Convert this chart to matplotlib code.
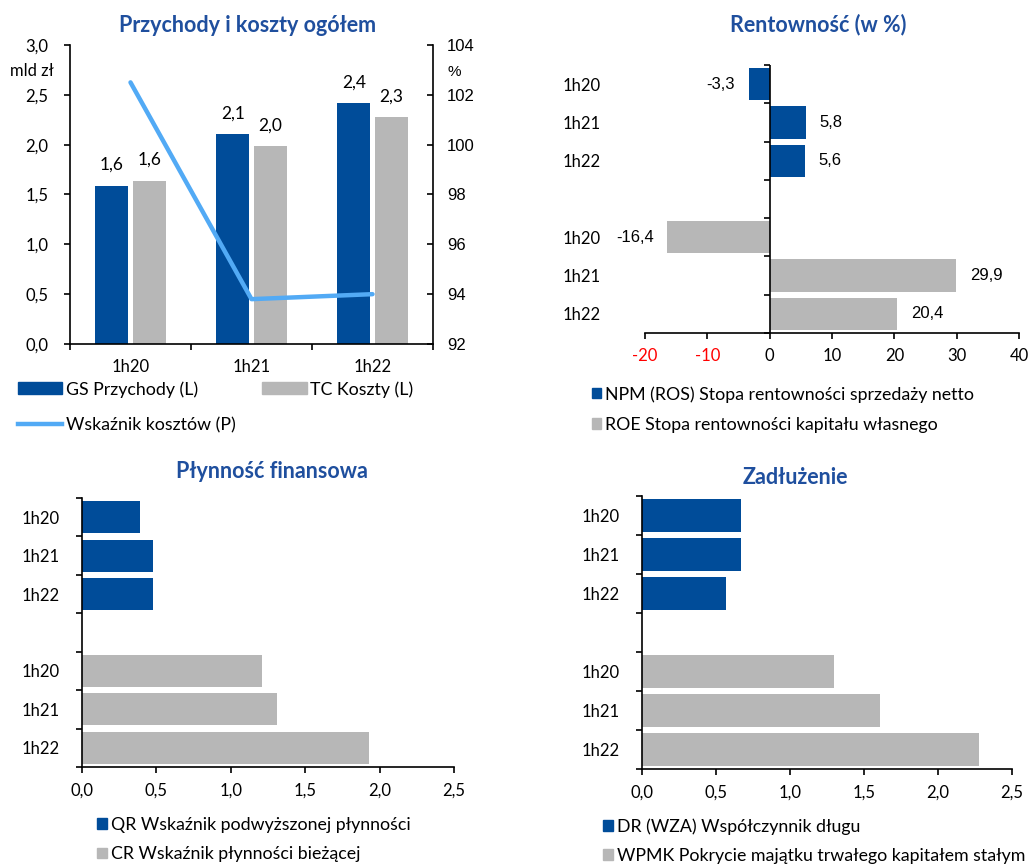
import matplotlib.pyplot as plt
from matplotlib.patches import Patch
from matplotlib.lines import Line2D
from matplotlib.ticker import FuncFormatter, FixedLocator

plt.rcParams['font.family'] = ['Lato', 'DejaVu Sans']
plt.rcParams['font.size'] = 12

BLUE = '#004c99'
GRAY = '#b7b7b7'
LIGHT = '#52aaf5'
TITLE = '#1f4f9e'

# data
periods = ['1h20', '1h21', '1h22']
gs_revenue = [1.59, 2.11, 2.42]
tc_costs = [1.64, 1.99, 2.28]
cost_ratio = [102.5, 93.8, 94.0]
npm = [-3.3, 5.8, 5.6]
roe = [-16.4, 29.9, 20.4]
qr = [0.39, 0.48, 0.48]
cr = [1.21, 1.31, 1.93]
dr = [0.67, 0.67, 0.57]
wpmk = [1.30, 1.61, 2.28]

comma1 = FuncFormatter(lambda v, p: f'{v:.1f}'.replace('.', ','))
W, H = 1029, 867
LEG_FS = 12.8


def box(l, t, r, b):
    return [l / W, 1 - b / H, (r - l) / W, (b - t) / H]


fig = plt.figure(figsize=(10.29, 8.67), dpi=100)

# ---- top left: revenue and costs
ax = fig.add_axes(box(70, 45, 433, 344))
x = list(range(len(periods)))
bw = 0.275
b1 = ax.bar([i - 0.155 for i in x], gs_revenue, bw, color=BLUE)
b2 = ax.bar([i + 0.155 for i in x], tc_costs, bw, color=GRAY)
for bars, vals in ((b1, gs_revenue), (b2, tc_costs)):
    for rect, v in zip(bars, vals):
        ax.annotate(f'{v:.1f}'.replace('.', ','), (rect.get_x() + rect.get_width() / 2, v),
                    xytext=(0, 9), textcoords='offset points', ha='center', va='bottom', fontsize=12.5)
ax.set_xlim(-0.5, 2.5)
ax.set_ylim(0, 3)
ax.set_yticks([0, 0.5, 1, 1.5, 2, 2.5, 3])
ax.yaxis.set_major_formatter(comma1)
ax.tick_params(axis='y', direction='out', length=4.5, width=1.2, pad=11)
ax.xaxis.set_major_locator(FixedLocator([-0.5, 0.5, 1.5, 2.5]))
ax.xaxis.set_major_formatter(FuncFormatter(lambda v, p: ''))
ax.xaxis.set_minor_locator(FixedLocator(x))
ax.set_xticklabels(periods, minor=True)
ax.tick_params(axis='x', which='major', direction='out', length=4.5, width=1.2)
ax.tick_params(axis='x', which='minor', length=0, pad=11)
ax.spines['top'].set_visible(False)
ax.spines['right'].set_visible(False)
for s in ('left', 'bottom'):
    ax.spines[s].set_linewidth(1.2)
ax.text(-0.105, 0.913, 'mld zł', transform=ax.transAxes, ha='center', va='center', fontsize=12)

ax2 = ax.twinx()
ax2.plot(x, cost_ratio, color=LIGHT, lw=3.2, solid_capstyle='round')
ax2.set_ylim(92, 104)
ax2.set_yticks(range(92, 105, 2))
ax2.tick_params(axis='y', direction='in', length=4.5, width=1.2, pad=10)
for lab in ax2.get_yticklabels():
    lab.set_family('Liberation Sans')
ax2.spines['top'].set_visible(False)
ax2.spines['left'].set_visible(False)
ax2.spines['right'].set_linewidth(1.2)
ax2.spines['bottom'].set_visible(False)
ax2.text(1.04, 0.91, '%', transform=ax.transAxes, ha='left', va='center',
         fontsize=11, family='Liberation Sans')

fig.text(248 / W, 1 - 25 / H, 'Przychody i koszty ogółem', ha='center', va='center',
         fontsize=15.5, fontweight='bold', color=TITLE)
fig.legend(handles=[Patch(color=BLUE, label='GS Przychody (L)'),
                    Line2D([], [], color=LIGHT, lw=3.2, label='Wskaźnik kosztów (P)'),
                    Patch(color=GRAY, label='TC Koszty (L)')],
           ncol=2, loc='upper left', bbox_to_anchor=(18 / W, 1 - 381 / H), frameon=False,
           borderpad=0, borderaxespad=0, handlelength=2.5, handleheight=0.65,
           handletextpad=0.2, labelspacing=1.1, columnspacing=1.5, fontsize=LEG_FS)


# ---- horizontal grouped bar panels
def hpanel(rect, top_vals, bottom_vals, xlim, xticks, fmt):
    a = fig.add_axes(rect)
    ypos_top = [0, 1, 2]
    ypos_bot = [4, 5, 6]
    bt = a.barh(ypos_top, top_vals, 0.84, color=BLUE)
    bb = a.barh(ypos_bot, bottom_vals, 0.84, color=GRAY)
    a.set_ylim(6.5, -0.5)
    a.set_xlim(*xlim)
    a.set_xticks(xticks)
    a.xaxis.set_major_formatter(fmt)
    a.set_yticks(ypos_top + ypos_bot)
    a.set_yticklabels(periods + periods)
    a.spines['top'].set_visible(False)
    a.spines['right'].set_visible(False)
    a.spines['bottom'].set_linewidth(1.2)
    a.tick_params(axis='x', direction='out', length=4, width=1.2, pad=7)
    return a, bt, bb


# top right: profitability
ax3, bt, bb = hpanel(box(645, 65, 1019, 333), npm, roe, (-20, 40), range(-20, 41, 10),
                     FuncFormatter(lambda v, p: f'{v:.0f}'))
ax3.spines['left'].set_visible(False)
ax3.tick_params(axis='y', length=0, pad=32)
ax3.axvline(0, color='black', lw=1.2)
ax3.plot([0] * 8, [i - 0.5 for i in range(8)], linestyle='none', marker=0,
         markersize=4, color='black', markeredgewidth=1.2, clip_on=False)
for lab in ax3.get_xticklabels():
    if lab.get_text().startswith('-'):
        lab.set_color('#ff0000')
for bars, vals in ((bt, npm), (bb, roe)):
    for rect, v in zip(bars, vals):
        yc = rect.get_y() + rect.get_height() / 2
        off = 10 if v >= 0 else -10
        ax3.annotate(f'{v:.1f}'.replace('.', ','), (v, yc), xytext=(off, 0),
                     textcoords='offset points', ha='left' if v >= 0 else 'right',
                     va='center', fontsize=12, family='Liberation Sans')
fig.text(818 / W, 1 - 25 / H, 'Rentowność (w %)', ha='center', va='center',
         fontsize=15.5, fontweight='bold', color=TITLE)
fig.legend(handles=[Patch(color=BLUE, label='NPM (ROS) Stopa rentowności sprzedaży netto'),
                    Patch(color=GRAY, label='ROE Stopa rentowności kapitału własnego')],
           loc='upper left', bbox_to_anchor=(592 / W, 1 - 386 / H), frameon=False,
           borderpad=0, borderaxespad=0, handlelength=0.5, handleheight=0.5,
           handletextpad=0.25, labelspacing=0.8, fontsize=LEG_FS)

# bottom left: liquidity
ax4, _, _ = hpanel(box(82, 498, 454, 767), qr, cr, (0, 2.5), [0, 0.5, 1, 1.5, 2, 2.5], comma1)
ax4.set_yticks([i - 0.5 for i in range(8)], minor=True)
ax4.tick_params(axis='y', which='major', length=0, pad=16)
ax4.tick_params(axis='y', which='minor', direction='out', length=4, width=1.2)
ax4.spines['left'].set_linewidth(1.2)
fig.text(272 / W, 1 - 471 / H, 'Płynność finansowa', ha='center', va='center',
         fontsize=15.5, fontweight='bold', color=TITLE)
fig.legend(handles=[Patch(color=BLUE, label='QR Wskaźnik podwyższonej płynności'),
                    Patch(color=GRAY, label='CR Wskaźnik płynności bieżącej')],
           loc='upper left', bbox_to_anchor=(97 / W, 1 - 817 / H), frameon=False,
           borderpad=0, borderaxespad=0, handlelength=0.55, handleheight=0.55,
           handletextpad=0.25, labelspacing=0.75, fontsize=LEG_FS)

# bottom right: debt
ax5, _, _ = hpanel(box(642, 496, 1012, 769), dr, wpmk, (0, 2.5), [0, 0.5, 1, 1.5, 2, 2.5], comma1)
ax5.set_yticks([i - 0.5 for i in range(8)], minor=True)
ax5.tick_params(axis='y', which='major', length=0, pad=16)
ax5.tick_params(axis='y', which='minor', direction='out', length=4, width=1.2)
ax5.spines['left'].set_linewidth(1.2)
fig.text(795 / W, 1 - 477 / H, 'Zadłużenie', ha='center', va='center',
         fontsize=15.5, fontweight='bold', color=TITLE)
fig.legend(handles=[Patch(color=BLUE, label='DR (WZA) Współczynnik długu'),
                    Patch(color=GRAY, label='WPMK Pokrycie majątku trwałego kapitałem stałym')],
           loc='upper left', bbox_to_anchor=(603 / W, 1 - 818 / H), frameon=False,
           borderpad=0, borderaxespad=0, handlelength=0.55, handleheight=0.55,
           handletextpad=0.25, labelspacing=0.75, fontsize=LEG_FS)

fig.savefig('out.png', dpi=100)
